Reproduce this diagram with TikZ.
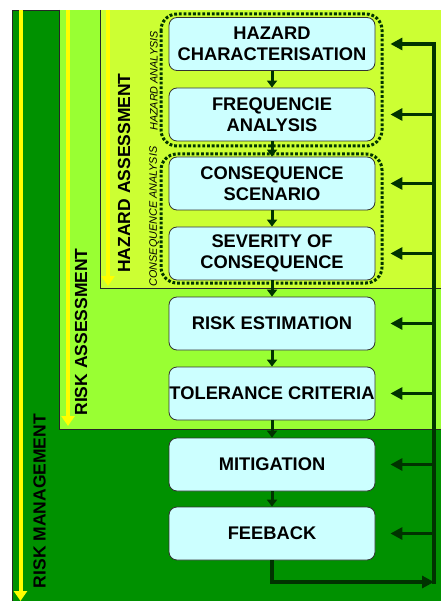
\documentclass[tikz,border=0pt]{standalone}
\usepackage{fontspec}
\setmainfont{Liberation Sans}
\usetikzlibrary{arrows.meta}
\definecolor{rmgreen}{RGB}{0,145,0}
\definecolor{ragreen}{RGB}{153,255,51}
\definecolor{hagreen}{RGB}{204,255,51}
\definecolor{boxcyan}{RGB}{204,255,255}
\definecolor{darkarrow}{RGB}{0,51,0}
\definecolor{flowyellow}{RGB}{255,255,0}

\begin{document}
\begin{tikzpicture}[x=1pt,y=-1pt,
  stepbox/.style={draw=black!80, line width=0.8pt, fill=boxcyan, rounded corners=8pt,
    minimum width=206pt, minimum height=53pt, align=center, inner sep=0pt,
    font=\fontsize{18.3}{21}\selectfont\bfseries},
  flow/.style={draw=darkarrow, line width=3pt, -{Triangle[length=7pt,width=10pt]}},
  feed/.style={draw=darkarrow, line width=3.5pt, -{Triangle[length=12pt,width=12pt]}, shorten >=15pt},
  feedline/.style={draw=darkarrow, line width=3.5pt},
  phase/.style={draw=flowyellow, line width=4pt, -{Triangle[length=10pt,width=13pt]}},
  phaselabel/.style={rotate=90, inner sep=0pt, font=\fontsize{17.5}{20}\selectfont\bfseries},
  group/.style={draw=darkarrow, line width=3pt, dash pattern=on 2.8pt off 1.9pt, rounded corners=16pt},
  grouplabel/.style={rotate=90, inner sep=0pt, font=\fontsize{10.8}{12}\selectfont\itshape},
  frame/.style={draw=black!85, line width=0.9pt}
]
\useasboundingbox (0,0) rectangle (441,601);
\fill[white] (0,0) rectangle (441,601);

% nested phase areas
\fill[rmgreen] (12,10) rectangle (441,601);
\draw[frame] (12,601) -- (12,10) -- (441,10);
\fill[ragreen] (59,10) rectangle (441,429);
\draw[frame] (59,10) -- (59,429) -- (441,429);
\fill[hagreen] (100,10) rectangle (441,288);
\draw[frame] (100,10) -- (100,288) -- (441,288);

% phase direction arrows and titles
\coordinate (rmtop) at (20.5,10);
\coordinate (rmend) at (20.5,601);
\coordinate (ratop) at (68,10);
\coordinate (raend) at (68,426);
\coordinate (hatop) at (108,10);
\coordinate (haend) at (108,286);
\draw[phase] (rmtop) -- (rmend);
\draw[phase] (ratop) -- (raend);
\draw[phase] (hatop) -- (haend);
\node[phaselabel] (rmlabel) at (39.5,501) {RISK MANAGEMENT};
\node[phaselabel] (ralabel) at (81,332) {RISK ASSESSMENT};
\node[phaselabel] (halabel) at (124,173) {HAZARD ASSESSMENT};

% analysis groups
\draw[group] (161,14) rectangle (382,146);
\draw[group] (161,154) rectangle (382,283);
\node[grouplabel] (hanal) at (154,81) {HAZARD ANALYSIS};
\node[grouplabel] (canal) at (154,216.5) {CONSEQUENCE ANALYSIS};

% process steps
\node[stepbox] (b1) at (272,44)    {HAZARD\\CHARACTERISATION};
\node[stepbox] (b2) at (272,114.5) {FREQUENCIE\\ANALYSIS};
\node[stepbox] (b3) at (272,183.5) {CONSEQUENCE\\SCENARIO};
\node[stepbox] (b4) at (272,253.5) {SEVERITY OF\\CONSEQUENCE};
\node[stepbox] (b5) at (272,323.5) {RISK ESTIMATION};
\node[stepbox] (b6) at (272,393.5) {TOLERANCE CRITERIA};
\node[stepbox] (b7) at (272,464.5) {MITIGATION};
\node[stepbox] (b8) at (272,533.5) {FEEBACK};

\foreach \a/\b in {b1/b2,b2/b3,b3/b4,b4/b5,b5/b6,b6/b7,b7/b8}
  \draw[flow] (\a.south) -- (\b.north);

% feedback loop
\coordinate (c2) at (434,582);
\foreach \i/\y in {1/44,2/114.5,3/183.5,4/253.5,5/323.5,6/393.5,7/464.5,8/533.5}
  \coordinate (r\i) at (434,\y);
\draw[feedline, line cap=rect] (c2) -- (r1);
\foreach \i in {1,...,8}
  \draw[feed] (r\i) -- (b\i);
\draw[feedline, -{Triangle[length=12pt,width=12pt]}] (b8.south) |- (c2);
\end{tikzpicture}
\end{document}
